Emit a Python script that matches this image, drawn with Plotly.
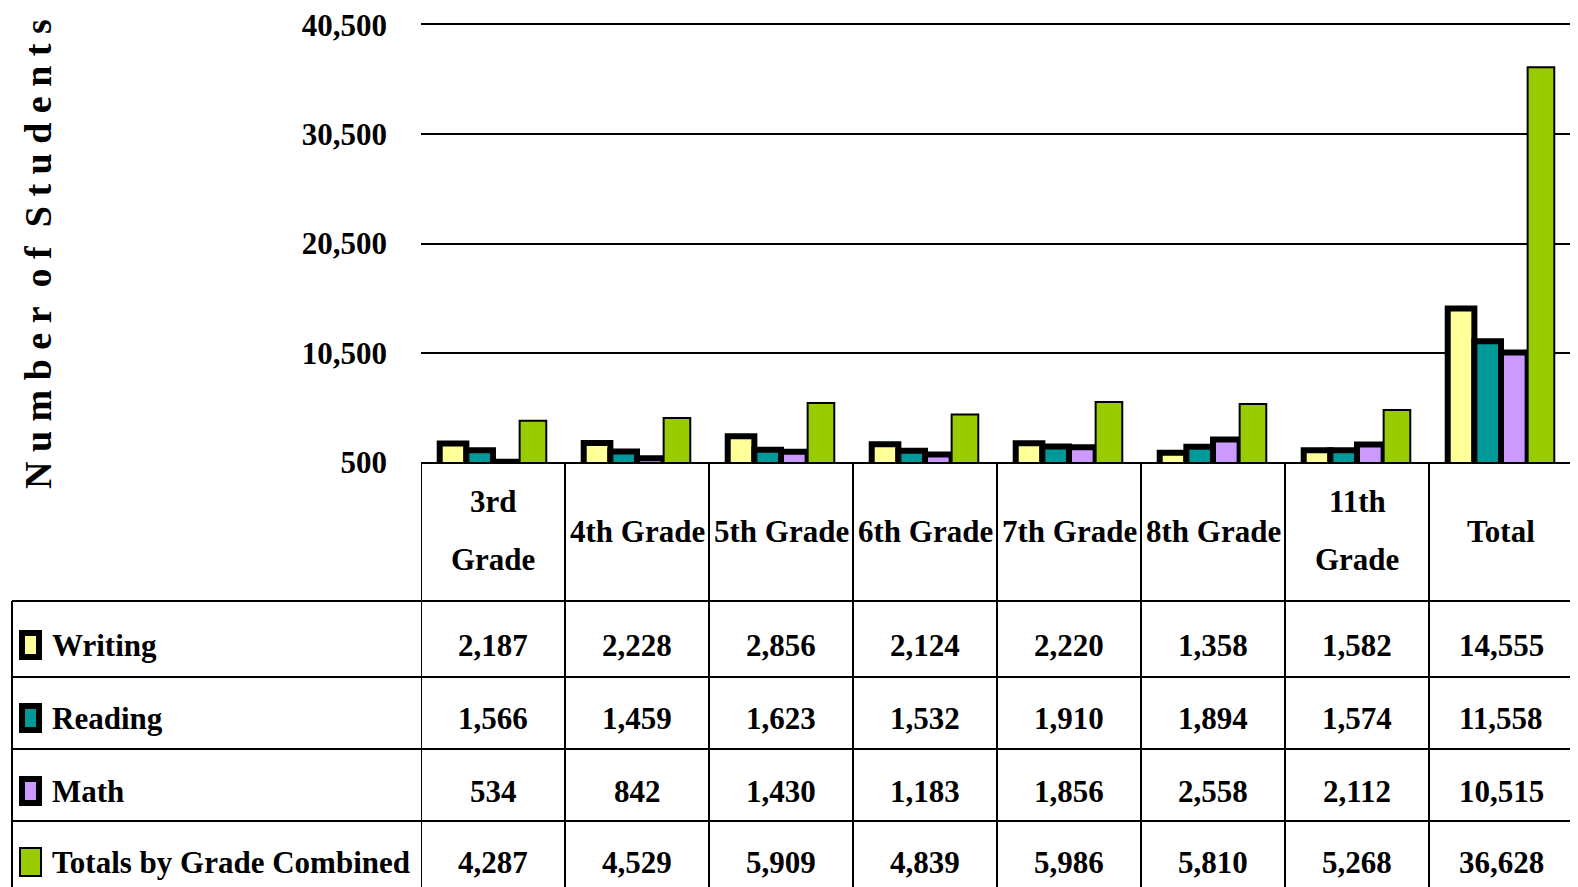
import plotly.graph_objects as go

# data
categories = ["3rd Grade", "4th Grade", "5th Grade", "6th Grade",
              "7th Grade", "8th Grade", "11th Grade", "Total"]
header_labels = ["3rd<br>Grade", "4th Grade", "5th Grade", "6th Grade",
                 "7th Grade", "8th Grade", "11th<br>Grade", "Total"]
series_names = ["Writing", "Reading", "Math", "Totals by Grade Combined"]
writing = [2187, 2228, 2856, 2124, 2220, 1358, 1582, 14555]
reading = [1566, 1459, 1623, 1532, 1910, 1894, 1574, 11558]
math = [534, 842, 1430, 1183, 1856, 2558, 2112, 10515]
totals = [4287, 4529, 5909, 4839, 5986, 5810, 5268, 36628]
y_ticks = [500, 10500, 20500, 30500, 40500]

colors = ["#FFFF99", "#009999", "#CC99FF", "#99CC00"]
outline = [6, 6, 6, 2]

W, H = 1578, 887
OFF = 8  # page margin around the plot div
FONT = "Liberation Serif"


def py(v):
    return 1 - (v - OFF) / H


def pxx(v):
    return (v - OFF) / W


fig = go.Figure()
for name, vals, color, lw in zip(series_names, [writing, reading, math, totals], colors, outline):
    fig.add_trace(go.Bar(
        x=categories, y=vals, name=name,
        marker=dict(color=color, line=dict(color="black", width=lw)),
    ))

fig.update_layout(
    width=W, height=H,
    margin=dict(l=0, r=0, t=0, b=0),
    paper_bgcolor="white", plot_bgcolor="white",
    barmode="group", bargap=0.26, bargroupgap=0,
    showlegend=False,
    font=dict(family=FONT, color="black"),
    xaxis=dict(
        domain=[pxx(421), pxx(1573)], range=[-0.5, 7.5],
        showticklabels=False, ticks="", showgrid=False, automargin=False,
        showline=True, mirror=True, linecolor="black", linewidth=2,
    ),
    yaxis=dict(
        domain=[py(462), py(25)], range=[500, 40500],
        tickvals=y_ticks, tickformat=",", ticks="", automargin=False,
        ticklabeloverflow="allow",
        showgrid=True, gridcolor="black", gridwidth=2,
        zeroline=False, showline=False,
        ticklabelstandoff=33,
        tickfont=dict(family=FONT, size=31, color="black", weight="bold"),
    ),
)

# y axis title, spaced letters
title = "\u00a0\u00a0".join(" ".join(word) for word in "Number of Students".split())
fig.add_annotation(
    text=title, textangle=-90, x=pxx(38), y=py(254), xref="paper", yref="paper",
    xanchor="center", yanchor="middle",
    showarrow=False, font=dict(family=FONT, size=38, weight="bold"),
)

# data table grid
line = dict(color="black", width=2)
for yline in [601, 677, 749, 821]:
    fig.add_shape(type="line", xref="paper", yref="paper",
                  x0=pxx(12), x1=pxx(1573), y0=py(yline), y1=py(yline), line=line)
fig.add_shape(type="line", xref="paper", yref="paper",
              x0=pxx(12), x1=pxx(12), y0=py(601), y1=0, line=line)
for j in range(len(categories) + 1):
    fig.add_shape(type="line", xref="x", yref="paper",
                  x0=j - 0.5, x1=j - 0.5, y0=py(462), y1=0, line=line)

# header row
for cat, label in zip(categories, header_labels):
    parts = label.split("<br>")
    offsets = [0] if len(parts) == 1 else [-29, 28]
    for part, off in zip(parts, offsets):
        fig.add_annotation(
            text=part, x=cat, xref="x", y=py(531 + off), yref="paper",
            xanchor="center", yanchor="middle",
            showarrow=False, font=dict(family=FONT, size=31, weight="bold"),
        )

# table rows
row_centers = [645, 718, 791, 862]
for name, vals, color, lw, yc in zip(series_names, [writing, reading, math, totals],
                                    colors, outline, row_centers):
    inset = lw / 2
    fig.add_shape(type="rect", xref="paper", yref="paper",
                  x0=pxx(19 + inset), x1=pxx(42 - inset),
                  y0=py(yc - 15 + inset), y1=py(yc + 15 - inset),
                  fillcolor=color, line=dict(color="black", width=lw))
    fig.add_annotation(
        text=name, x=pxx(50), xanchor="left", yanchor="middle",
        xref="paper", y=py(yc), yref="paper",
        showarrow=False, font=dict(family=FONT, size=31, weight="bold"),
    )
    for cat, v in zip(categories, vals):
        fig.add_annotation(
            text=f"{v:,}", x=cat, xref="x", y=py(yc), yref="paper",
            xanchor="center", yanchor="middle",
            showarrow=False, font=dict(family=FONT, size=31, weight="bold"),
        )

fig.write_html("out.html")
